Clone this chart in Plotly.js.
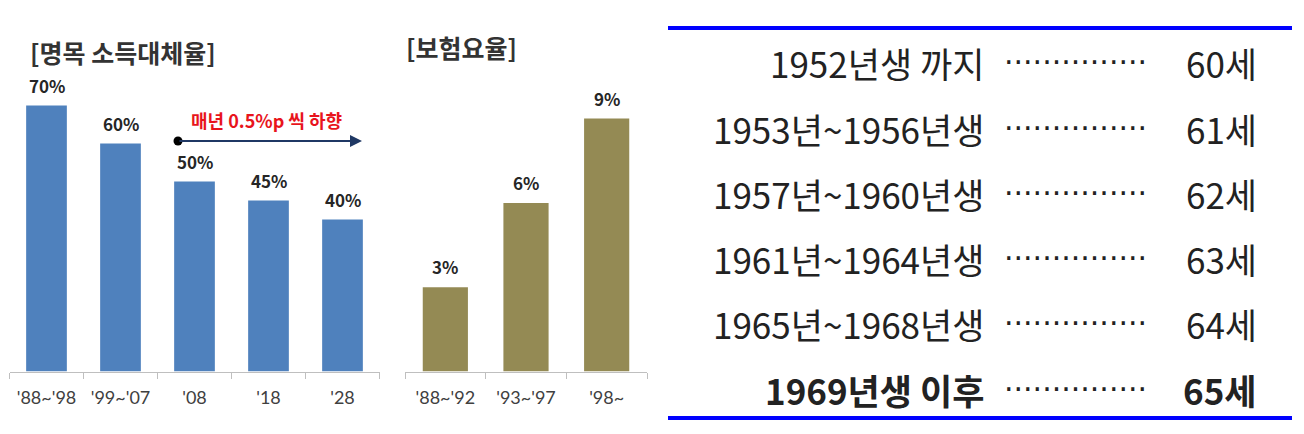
<!DOCTYPE html>
<html><head><meta charset="utf-8">
<script src="https://cdn.plot.ly/plotly-3.0.1.min.js"></script>
<style>html,body{margin:0;padding:0;background:#fff;}#chart{width:1304px;height:434px;}</style>
</head><body><div id="chart"></div>
<script>
// ---- data ----
const incomeCats = ["'88~'98", "'99~'07", "'08", "'18", "'28"];
const incomeVals = [70, 60, 50, 45, 40];
const premiumCats = ["'88~'92", "'93~'97", "'98~"];
const premiumVals = [3, 6, 9];
const cohortLabels = ["1952년생 까지", "1953년~1956년생", "1957년~1960년생", "1961년~1964년생", "1965년~1968년생", "1969년생 이후"];
const pensionAges = [60, 61, 62, 63, 64, 65];
const titleIncome = "[명목 소득대체율]";
const titlePremium = "[보험요율]";
const trendNote = "매년 0.5%p 씩 하향";

// ---- layout helpers (pixels -> paper) ----
const W = 1304, H = 434;
const px = x => x / W;
const py = y => 1 - y / H;
const KR = "Noto Sans CJK KR";

const traces = [
  {type: 'bar', x: incomeCats, y: incomeVals, xaxis: 'x', yaxis: 'y',
   marker: {color: '#4F81BD'}, width: 0.55, hoverinfo: 'none'},
  {type: 'bar', x: premiumCats, y: premiumVals, xaxis: 'x2', yaxis: 'y2',
   marker: {color: '#948A54'}, width: 0.56, hoverinfo: 'none'}
];

const annotations = [];
incomeCats.forEach((c, i) => annotations.push({
  x: c, y: incomeVals[i], xref: 'x', yref: 'y', yanchor: 'bottom', yshift: 6,
  text: incomeVals[i] + '%', showarrow: false,
  font: {family: KR, size: 17, color: '#262626', weight: 700}
}));
premiumCats.forEach((c, i) => annotations.push({
  x: c, y: premiumVals[i], xref: 'x2', yref: 'y2', yanchor: 'bottom', yshift: 6,
  text: premiumVals[i] + '%', showarrow: false,
  font: {family: KR, size: 17, color: '#262626', weight: 700}
}));
annotations.push({x: px(28), y: py(52), xref: 'paper', yref: 'paper', xanchor: 'left', yanchor: 'middle',
  text: titleIncome, showarrow: false, font: {family: KR, size: 25, color: '#333333', weight: 700}});
annotations.push({x: px(404), y: py(47), xref: 'paper', yref: 'paper', xanchor: 'left', yanchor: 'middle',
  text: titlePremium, showarrow: false, font: {family: KR, size: 25, color: '#333333', weight: 700}});
annotations.push({x: px(266), y: py(120), xref: 'paper', yref: 'paper', xanchor: 'center', yanchor: 'middle',
  text: trendNote, showarrow: false, font: {family: KR, size: 18, color: '#E8141C', weight: 700}});
annotations.push({x: px(362), y: py(141), xref: 'paper', yref: 'paper', ax: -184, ay: 0,
  text: '', showarrow: true, arrowhead: 2, arrowsize: 1.2, arrowwidth: 2, arrowcolor: '#1F3864'});

// table
const rowY0 = 63, rowStep = 65.2;
cohortLabels.forEach((lab, i) => {
  const y = py(rowY0 + i * rowStep);
  const last = i === cohortLabels.length - 1;
  const f = {family: KR, size: 35, color: '#222222', weight: last ? 700 : 400};
  annotations.push({x: px(986), y: y, xref: 'paper', yref: 'paper', xanchor: 'right', yanchor: 'middle',
    text: lab, showarrow: false, font: f});
  annotations.push({x: px(1075), y: y, xref: 'paper', yref: 'paper', xanchor: 'center', yanchor: 'middle',
    text: '···············', showarrow: false, font: {family: 'DejaVu Sans', size: 30, color: '#222222'}});
  annotations.push({x: px(1259), y: y, xref: 'paper', yref: 'paper', xanchor: 'right', yanchor: 'middle',
    text: pensionAges[i] + '세', showarrow: false, font: f});
});

const shapes = [
  {type: 'circle', xref: 'paper', yref: 'paper', x0: px(173.5), x1: px(182.5), y0: py(145.5), y1: py(136.5),
   fillcolor: '#000000', line: {width: 0}},
  {type: 'line', xref: 'paper', yref: 'paper', x0: px(668), x1: px(1292), y0: py(28), y1: py(28),
   line: {color: '#0000FF', width: 4}},
  {type: 'line', xref: 'paper', yref: 'paper', x0: px(668), x1: px(1292), y0: py(418), y1: py(418),
   line: {color: '#0000FF', width: 4}}
];

const xCommon = {type: 'category', showline: true, linecolor: '#BFBFBF', linewidth: 1,
  ticks: 'outside', tickson: 'boundaries', ticklen: 6, tickcolor: '#BFBFBF', showgrid: false,
  tickfont: {family: 'Lato', size: 18, color: '#404040'}, ticklabelstandoff: 10, fixedrange: true};
const yCommon = {showgrid: false, zeroline: false, showline: false, showticklabels: false, ticks: '', fixedrange: true};

const layout = {
  width: W, height: H, margin: {l: 0, r: 0, t: 0, b: 0},
  paper_bgcolor: '#FFFFFF', plot_bgcolor: 'rgba(0,0,0,0)', showlegend: false,
  bargap: 0.45,
  xaxis: Object.assign({}, xCommon, {domain: [px(9.5), px(379.5)], range: [-0.5, 4.5], anchor: 'y'}),
  yaxis: Object.assign({}, yCommon, {domain: [py(371.5), py(67.5)], range: [0, 80], anchor: 'x'}),
  xaxis2: Object.assign({}, xCommon, {domain: [px(405), px(647)], range: [-0.5, 2.5], anchor: 'y2'}),
  yaxis2: Object.assign({}, yCommon, {domain: [py(371.5), py(90.5)], range: [0, 10], anchor: 'x2'}),
  annotations: annotations, shapes: shapes
};

Plotly.newPlot('chart', traces, layout, {staticPlot: true, displayModeBar: false});
</script></body></html>
